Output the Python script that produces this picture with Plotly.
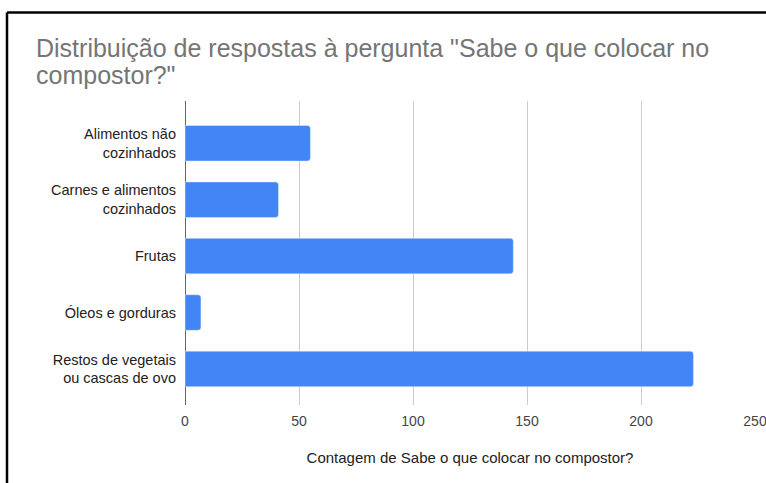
import plotly.graph_objects as go

# Survey answers: "Sabe o que colocar no compostor?"
categories = [
    "Alimentos não<br>cozinhados",
    "Carnes e alimentos<br>cozinhados",
    "Frutas",
    "Óleos e gorduras",
    "Restos de vegetais<br>ou cascas de ovo",
]
counts = [55, 41, 144, 7, 223]
x_ticks = [0, 50, 100, 150, 200, 250]
title_lines = ['Distribuição de respostas à pergunta "Sabe o que colocar no', 'compostor?"']

W, H = 766, 483
L, R, T, B = 185, 11, 101, 78
plot_w = W - L - R
plot_h = H - T - B

fig = go.Figure(
    go.Bar(
        x=counts,
        y=categories,
        orientation="h",
        marker=dict(color="#4285F4", cornerradius=3),
        width=0.63,
        hoverinfo="x+y",
    )
)

font_family = "Liberation Sans, Arial, sans-serif"

def px_x(p):
    return (p - L) / plot_w

def px_y(p):
    return 1 + (T - p) / plot_h

# two-line heading, placed line by line for tighter leading
annotations = [
    dict(
        text=line, xref="paper", yref="paper",
        x=px_x(34), y=px_y(yc), xanchor="left", yanchor="middle",
        showarrow=False,
        font=dict(family=font_family, size=25, color="#757575"),
    )
    for line, yc in zip(title_lines, [48, 75])
]

fig.update_layout(
    width=W,
    height=H,
    margin=dict(l=L, r=R, t=T, b=B, autoexpand=False),
    paper_bgcolor="white",
    plot_bgcolor="white",
    showlegend=False,
    font=dict(family=font_family, color="#222222"),
    annotations=annotations,
    xaxis=dict(
        range=[0, 250],
        tickvals=x_ticks,
        ticktext=[str(v) for v in x_ticks],
        automargin=False,
        ticklabeloverflow="allow",
        showgrid=True,
        gridcolor="#cccccc",
        gridwidth=1,
        zeroline=True,
        zerolinecolor="#666666",
        zerolinewidth=1,
        showline=False,
        ticks="",
        ticklabelstandoff=6,
        tickfont=dict(size=14, color="#444444"),
        title=dict(
            text="Contagem de Sabe o que colocar no compostor?",
            font=dict(size=15, color="#222222"),
            standoff=24,
        ),
        fixedrange=True,
    ),
    yaxis=dict(
        categoryorder="array",
        categoryarray=categories,
        range=[4.64, -0.75],
        automargin=False,
        showgrid=False,
        ticks="",
        ticklabelstandoff=8,
        tickfont=dict(size=14.5, color="#222222"),
        fixedrange=True,
    ),
    shapes=[
        # frame edges (top and left)
        dict(
            type="line", xref="paper", yref="paper",
            x0=px_x(7), x1=px_x(W + 10),
            y0=px_y(12.5), y1=px_y(12.5),
            line=dict(color="black", width=2.5),
        ),
        dict(
            type="line", xref="paper", yref="paper",
            x0=px_x(7), x1=px_x(7),
            y0=px_y(12.5), y1=px_y(H + 10),
            line=dict(color="black", width=2.5),
        ),
    ],
)

fig.write_html("out.html")
